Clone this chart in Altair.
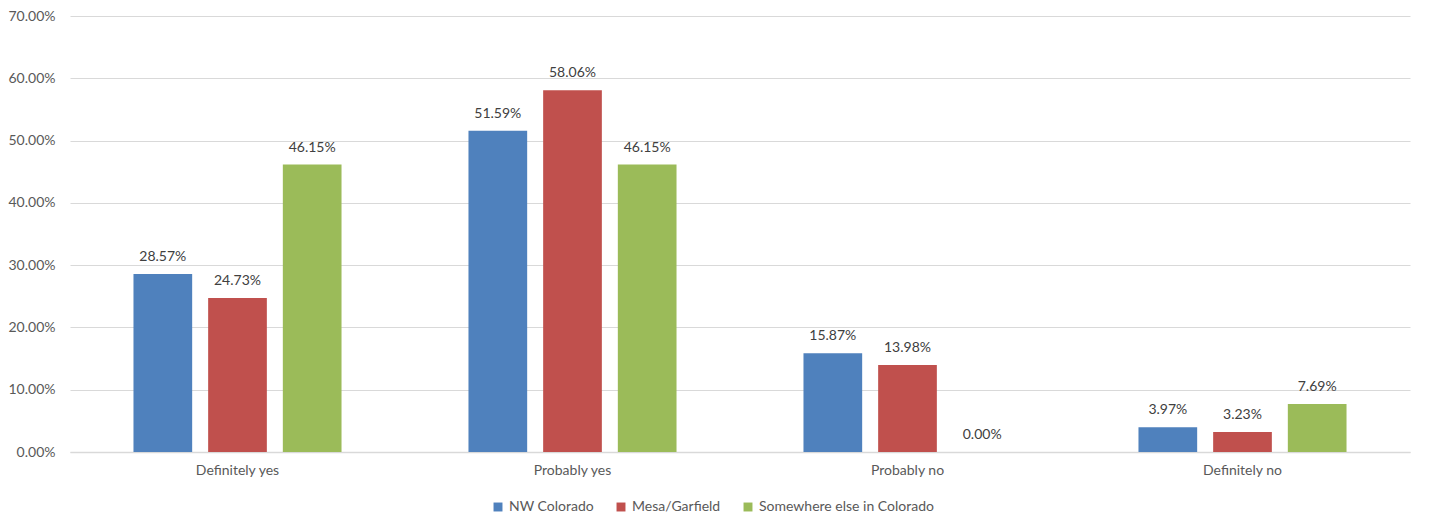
import altair as alt
import pandas as pd

categories = ["Definitely yes", "Probably yes", "Probably no", "Definitely no"]
series = ["NW Colorado", "Mesa/Garfield", "Somewhere else in Colorado"]
colors = ["#4F81BD", "#C0504D", "#9BBB59"]

nw_colorado = [0.2857, 0.5159, 0.1587, 0.0397]
mesa_garfield = [0.2473, 0.5806, 0.1398, 0.0323]
elsewhere = [0.4615, 0.4615, 0.0000, 0.0769]

rows = []
for name, vals in zip(series, [nw_colorado, mesa_garfield, elsewhere]):
    for cat, v in zip(categories, vals):
        rows.append({"answer": cat, "region": name, "share": v})
df = pd.DataFrame(rows)

FONT = "Lato"
FS = 14

x_enc = alt.X(
    "answer:N",
    sort=categories,
    scale=alt.Scale(paddingInner=0, paddingOuter=0),
    axis=alt.Axis(
        title=None, labelAngle=0, labelFontSize=FS, labelColor="#595959",
        labelFont=FONT, labelPadding=11, ticks=False, grid=False,
        domainColor="#D9D9D9", domainWidth=1.3,
    ),
)
xoff_enc = alt.XOffset(
    "region:N", sort=series,
    scale=alt.Scale(paddingInner=0.214, paddingOuter=0.85),
)
y_enc = alt.Y(
    "share:Q",
    scale=alt.Scale(domain=[0, 0.7], nice=False),
    axis=alt.Axis(
        title=None, format=".2%", values=[i / 10 for i in range(8)],
        labelFontSize=FS, labelColor="#595959", labelFont=FONT,
        labelPadding=15, ticks=False, domain=False,
        gridColor="#D9D9D9", gridWidth=1,
    ),
)

bars = alt.Chart(df).mark_bar().encode(
    x=x_enc,
    xOffset=xoff_enc,
    y=y_enc,
    color=alt.Color(
        "region:N", sort=series,
        scale=alt.Scale(domain=series, range=colors),
        legend=alt.Legend(
            title=None, orient="none", direction="horizontal",
            legendX=421, legendY=484, symbolType="square", symbolSize=80,
            symbolStrokeWidth=0, labelFontSize=FS, labelColor="#595959",
            labelFont=FONT, columnPadding=20, labelOffset=4, labelLimit=400,
        ),
    ),
)

labels = alt.Chart(df).mark_text(
    dy=-17, fontSize=FS, color="#404040", font=FONT
).encode(
    x=alt.X("answer:N", sort=categories),
    xOffset=alt.XOffset("region:N", sort=series),
    y="share:Q",
    text=alt.Text("share:Q", format=".2%"),
)

chart = (
    alt.layer(bars, labels)
    .properties(
        width=1340, height=436,
        background="white",
        autosize=alt.AutoSizeParams(type="none"),
        padding={"left": 70, "top": 16, "right": 20, "bottom": 62},
    )
    .configure_view(stroke=None, strokeWidth=0)
    .configure_axisX(grid=False)
)

chart.save("out.html", embed_options={"renderer": "svg", "actions": False})
